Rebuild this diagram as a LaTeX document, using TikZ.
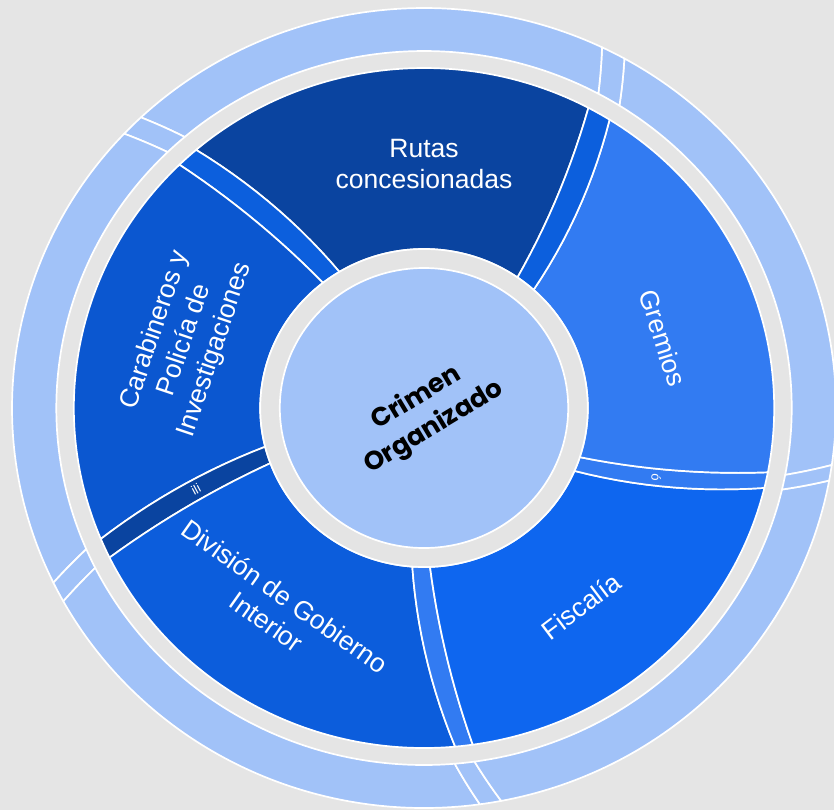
\documentclass[tikz,border=0pt]{standalone}
\usepackage{fontspec}
\setmainfont{Liberation Sans}
\newfontfamily\poppinsfont{Poppins}
\definecolor{bgc}{HTML}{E5E5E5}
\definecolor{ringc}{HTML}{E4E4E4}
\definecolor{centerc}{HTML}{A1C2F8}
\definecolor{rutasc}{HTML}{0A44A0}
\definecolor{carabc}{HTML}{0B57D0}
\definecolor{divc}{HTML}{0C5DDC}
\definecolor{fiscc}{HTML}{0E66EF}
\definecolor{gremc}{HTML}{327BF2}
\definecolor{brightc}{HTML}{0C5FDD}
\definecolor{outerc}{HTML}{A1C2F8}
% #1 r_in, #2 r_out, #3 a_in, #4 a_out (start boundary), #5 b_in, #6 b_out (end boundary)
\newcommand{\segpath}[6]{%
  plot[domain=0:1,samples=14,variable=\t] ({(#3)+((#4)-(#3))*\t}:{(#1)+((#2)-(#1))*\t})
  arc[start angle={#4}, end angle={#6}, radius={#2}]
  -- plot[domain=1:0,samples=14,variable=\t] ({(#5)+((#6)-(#5))*\t}:{(#1)+((#2)-(#1))*\t})
  arc[start angle={#5}, end angle={#3}, radius={#1}] -- cycle}
\begin{document}
\begin{tikzpicture}[x=1pt,y=1pt,
  seg/.style={draw=white, line width=1.7pt, line join=round},
  lab/.style={text=white, font=\fontsize{26.5}{31.5}\selectfont, align=center, inner sep=0pt},
  frag/.style={text=white, font=\fontsize{13}{13}\selectfont, inner sep=0pt}]
\fill[bgc] (0,0) rectangle (834,-810);
\useasboundingbox (0,0) rectangle (834,-810);
\clip (0,0) rectangle (834,-810);
\begin{scope}[shift={(424,-408)}, xscale=1.03]
  % outer ring
  \path[seg, fill=outerc] \segpath{357}{400}{-10.8}{-8.2}{57.9}{60.9};
  \path[seg, fill=outerc] \segpath{357}{400}{57.9}{60.9}{61.7}{64.4};
  \path[seg, fill=outerc] \segpath{357}{400}{61.7}{64.4}{130.6}{133.4};
  \path[seg, fill=outerc] \segpath{357}{400}{130.6}{133.4}{134.2}{136.7};
  \path[seg, fill=outerc] \segpath{357}{400}{134.2}{136.7}{203.3}{205.9};
  \path[seg, fill=outerc] \segpath{357}{400}{203.3}{205.9}{206.6}{208.9};
  \path[seg, fill=outerc] \segpath{357}{400}{206.6}{208.9}{274.8}{277.8};
  \path[seg, fill=outerc] \segpath{357}{400}{274.8}{277.8}{277.9}{280.8};
  \path[seg, fill=outerc] \segpath{357}{400}{277.9}{280.8}{346.8}{349.55};
  \path[seg, fill=outerc] \segpath{357}{400}{346.8}{349.55}{349.2}{351.8};
  % middle ring
  \path[seg, fill=rutasc]  \segpath{159}{340}{55.2}{62.0}{121.1}{130.6};
  \path[seg, fill=brightc] \segpath{159}{340}{121.1}{130.6}{128.1}{134.3};
  \path[seg, fill=carabc]  \segpath{159}{340}{128.1}{134.3}{194.1}{202.65};
  \path[seg, fill=rutasc]  \segpath{159}{340}{194.1}{202.65}{200.3}{206.1};
  \path[seg, fill=divc]    \segpath{159}{340}{200.3}{206.1}{265.9}{275.1};
  \path[seg, fill=gremc]   \segpath{159}{340}{265.9}{275.1}{272.1}{278.0};
  \path[seg, fill=fiscc]   \segpath{159}{340}{272.1}{278.0}{336.7}{346.4};
  \path[seg, fill=gremc]   \segpath{159}{340}{336.7}{346.4}{342.0}{349.1};
  \path[seg, fill=gremc]   \segpath{159}{340}{-18.0}{-10.9}{48.0}{58.0};
  \path[seg, fill=brightc] \segpath{159}{340}{48.0}{58.0}{55.2}{62.0};
  % clipped fragments of labels in the thin bands
  \begin{scope}
    \clip \segpath{159}{340}{194.1}{202.65}{200.3}{206.1};
    \node[frag, rotate=28] (fragA) at (200.2:236) {ili};
  \end{scope}
  \begin{scope}
    \clip \segpath{159}{340}{336.7}{346.4}{342.0}{349.1};
    \node[frag, rotate=-95] (fragB) at (-17.1:236) {ó};
  \end{scope}
  % grey ring and centre
  \path[seg, fill=ringc] (0,0) circle[radius=159];
  \path[seg, fill=centerc] (0,0) circle[radius=140];
\end{scope}
% labels
\node[lab] (rutas) at (424,-164) {Rutas\\concesionadas};
\node[lab, rotate=-72.5] (gremios) at (663,-338) {Gremios};
\node[lab, rotate=71.4] (carab) at (185,-340) {Carabineros y\\Policía de\\Investigaciones};
\node[lab, rotate=-35.2] (division) at (276,-609) {División de Gobierno\\Interior};
\node[lab, rotate=37] (fiscalia) at (581,-606) {Fiscalía};
\node[font=\poppinsfont\bfseries\fontsize{26}{34}\selectfont, rotate=31, align=center, inner sep=0pt] (centro) at (425,-413) {Crimen\\Organizado};
\end{tikzpicture}
\end{document}
